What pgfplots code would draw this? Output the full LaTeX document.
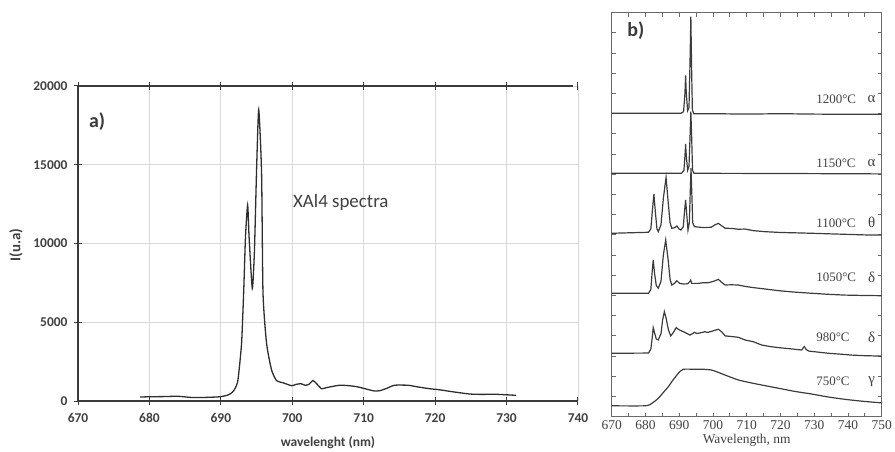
\documentclass[border=0pt]{standalone}
\usepackage{pgfplots}
\pgfplotsset{compat=1.18}
\usepackage{fontspec}
\setmainfont{Carlito}
\newfontfamily\serifb{Liberation Serif}
\definecolor{axdark}{HTML}{3A3A3A}
\definecolor{gridc}{HTML}{D9D9D9}
\definecolor{labc}{HTML}{404040}
\definecolor{curvec}{HTML}{2E2E2E}
\definecolor{bframe}{HTML}{6A6A6A}
\definecolor{btrace}{HTML}{3C3C3C}
\tikzset{btr/.style={btrace, line width=1.2bp, no marks}}

\begin{document}
\begin{tikzpicture}
\useasboundingbox (0,0) rectangle (895bp,452bp);

% panel a
\begin{axis}[
    at={(78bp,51bp)}, anchor=south west,
    scale only axis, width=500bp, height=315bp,
    xmin=670, xmax=740, ymin=0, ymax=20000,
    xtick={670,680,...,740}, ytick={0,5000,...,20000},
    scaled y ticks=false, clip=false,
    axis line style={draw=none},
    xtick pos=both, ytick pos=left, tick align=center,
    major tick length=8bp,
    tick style={axdark, line width=1bp},
    grid=major, grid style={gridc, line width=0.8bp},
    ticklabel style={font=\fontsize{13.5}{14}\selectfont\bfseries, text=labc},
    /pgf/number format/1000 sep={},
    /pgf/number format/assume math mode=true,
    xticklabel style={yshift=-5bp},
    yticklabel style={xshift=-3bp},
]
\draw[axdark, line width=1.3bp] (rel axis cs:0,1) -- (rel axis cs:0,0) -- (rel axis cs:1,0);
\draw[axdark, line width=1.3bp] (rel axis cs:0,1) -- (rel axis cs:0.99,1);
\addplot[curvec, line width=1.3bp, smooth, tension=0.35, no marks] coordinates {
(678.7,250)(680,270)(682,280)(684,300)(686,220)(688,230)(689.9,270)(691,380)
(691.6,550)(692,800)(692.4,1350)(692.9,3660)(693.2,7000)(693.45,10430)(693.75,12450)
(693.95,10430)(694.4,7150)(694.7,9500)(695.0,14667)(695.3,18500)(695.7,14500)
(695.9,6860)(696.4,3660)(697.1,1970)(697.8,1290)(698.7,1160)(699.9,970)
(700.5,1050)(701.2,1100)(701.8,1000)(702.3,1050)(702.9,1300)(703.4,1100)(704.1,780)
(704.8,850)(706.6,1000)(708,970)(709,910)(710,800)(711.5,635)(712.3,660)(713.2,800)
(714.3,1000)(716.2,1000)(717.5,900)(719.2,780)(720.5,720)(722.4,590)(724.8,445)
(726.5,420)(728.6,425)(731.3,360)};
\node[anchor=west, font=\fontsize{20}{22}\selectfont\bfseries, text=axdark] at (rel axis cs:0.015,0.886) {a)};
\node[font=\fontsize{19}{21}\selectfont, text=labc] at (axis cs:706.8,12630) {XAl4 spectra};
\node[rotate=90, font=\fontsize{15}{16}\selectfont\bfseries, text=labc] at (rel axis cs:-0.124,0.495) {I(u.a)};
\node[font=\fontsize{13.5}{14}\selectfont\bfseries, text=labc] at (rel axis cs:0.5,-0.133) {wavelenght (nm)};
\end{axis}

% panel b
\begin{axis}[
    at={(611.7bp,35.3bp)}, anchor=south west,
    scale only axis, width=270bp, height=404bp,
    xmin=670, xmax=750, ymin=0, ymax=20,
    xtick={670,680,...,750}, minor x tick num=1,
    ytick={1,2,...,19}, yticklabels={},
    tick align=inside, major tick length=4bp, minor tick length=4bp,
    axis line style={bframe, line width=1bp},
    tick style={bframe, line width=0.8bp},
    clip=false,
    xticklabel style={font=\serifb\fontsize{13.5}{14}\selectfont, text=labc},
    /pgf/number format/assume math mode=true,
]
% 1200 C
\addplot[btr] coordinates {
(670,15.02)(690.5,15.02)(691.3,15.1)(691.7,16.0)(691.9,16.9)(692.1,16.0)(692.5,15.15)
(692.9,15.3)(693.2,17.5)(693.45,19.8)(693.7,17.0)(693.9,15.2)(694.3,15.0)(700,15.0)
(710,14.98)(720,15.0)(730,14.98)(740,14.97)(750,14.97)};
% 1150 C
\addplot[btr] coordinates {
(670,12.05)(690.7,12.05)(691.4,12.2)(691.7,12.9)(691.9,13.5)(692.1,12.9)(692.5,12.2)
(692.9,12.4)(693.2,13.8)(693.45,15.1)(693.7,13.8)(693.95,12.2)(694.4,12.05)(720,12.04)(750,12.02)};
% 1100 C
\addplot[btr] coordinates {
(670,9.08)(680.9,9.13)(681.6,9.3)(682.1,10.3)(682.5,11.02)(682.9,10.2)(683.4,9.3)
(683.8,9.16)(684.6,9.5)(685.3,10.8)(686.1,11.85)(686.8,10.5)(687.3,9.6)(687.8,9.33)
(688.6,9.35)(689.3,9.44)(689.9,9.3)(690.5,9.24)(691.2,9.4)(691.6,10.2)(691.9,10.73)
(692.2,10.1)(692.6,9.24)(693.0,9.6)(693.25,11.0)(693.5,12.3)(693.75,11.0)(694.0,9.6)
(694.5,9.41)(696,9.38)(697.6,9.36)(699.5,9.38)(700.6,9.5)(701.6,9.57)(702.6,9.45)
(703.6,9.33)(705.5,9.32)(707.5,9.28)(709.5,9.29)(712,9.21)(715.4,9.16)(720,9.12)
(725,9.1)(729.3,9.08)(735,9.05)(739.1,9.03)(745,9.0)(750,8.99)};
% 1050 C
\addplot[btr] coordinates {
(670,6.11)(680.9,6.11)(681.6,6.3)(682,7.2)(682.3,7.76)(682.7,7.1)(683.2,6.5)(683.8,6.36)
(684.6,6.7)(685.3,8.0)(686,8.75)(686.7,7.8)(687.3,6.8)(687.8,6.52)(688.6,6.6)(689.3,6.73)
(690.1,6.6)(691.2,6.57)(692.5,6.58)(693.2,6.7)(693.4,6.76)(693.7,6.6)(695.7,6.6)(697,6.63)
(698.6,6.63)(700.5,6.72)(701.6,6.8)(702.6,6.65)(703.6,6.52)(705.5,6.53)(707.5,6.52)
(709.5,6.45)(712,6.39)(715,6.33)(719.4,6.24)(724,6.17)(729.3,6.11)(734,6.06)(739.1,6.02)
(745,6.0)(750,5.99)};
% 980 C
\addplot[btr] coordinates {
(670,3.14)(680.9,3.15)(681.6,3.35)(682,3.9)(682.3,4.41)(682.7,4.15)(683.2,3.85)(683.8,3.8)
(684.6,4.1)(685.1,4.8)(685.6,5.2)(686.1,4.9)(686.8,4.3)(687.5,4.0)(688.4,4.2)(689.1,4.41)
(690,4.3)(691.2,4.21)(692.3,4.12)(693.2,4.04)(694,4.12)(694.5,4.18)(695.2,4.12)(696.2,4.15)
(697,4.18)(697.6,4.21)(698.4,4.17)(699.5,4.22)(700.6,4.28)(701.6,4.33)(702.6,4.2)(703.6,4.0)
(705.5,3.97)(707.5,3.93)(709.5,3.8)(712,3.71)(714.4,3.55)(717,3.47)(719.4,3.42)(723,3.36)
(726.3,3.3)(726.8,3.43)(727.1,3.47)(727.5,3.35)(728.3,3.25)(731,3.2)(734.2,3.14)
(737.5,3.1)(741.1,3.05)(745,3.02)(750,3.0)};
% 750 C
\addplot[btr, smooth, tension=0.4] coordinates {
(670,0.54)(679.9,0.54)(681.9,0.66)(683.8,0.91)(685.3,1.2)(686.8,1.49)(688,1.78)
(689.3,2.06)(690.3,2.25)(691.2,2.35)(694.7,2.35)(697,2.35)(699.6,2.31)(701.5,2.2)
(703.6,2.06)(705.5,1.94)(707.5,1.82)(709.5,1.74)(712,1.65)(715,1.55)(719.4,1.41)
(724,1.26)(729.3,1.12)(734,0.98)(739.1,0.86)(744,0.77)(749.5,0.69)(750,0.68)};
\begin{scope}[every node/.style={anchor=west, font=\serifb\fontsize{13}{14}\selectfont, text=labc}]
\node at (axis cs:729.6,15.71) {1200°C};
\node at (axis cs:729.6,12.56) {1150°C};
\node at (axis cs:729.6,9.6) {1100°C};
\node at (axis cs:729.6,6.88) {1050°C};
\node at (axis cs:729.6,3.91) {980°C};
\node at (axis cs:729.6,1.73) {750°C};
\end{scope}
\begin{scope}[every node/.style={font=\serifb\fontsize{15}{16}\selectfont, text=labc}]
\node at (axis cs:747,15.71) {α};
\node at (axis cs:747,12.56) {α};
\node at (axis cs:747,9.6) {θ};
\node at (axis cs:747,6.88) {δ};
\node at (axis cs:747,3.91) {δ};
\node at (axis cs:747,1.73) {γ};
\end{scope}
\node[anchor=west, font=\fontsize{20}{22}\selectfont\bfseries, text=axdark] at (rel axis cs:0.045,0.955) {b)};
\node[font=\serifb\fontsize{13.5}{14}\selectfont, text=labc] at (rel axis cs:0.5,-0.059) {Wavelength, nm};
\end{axis}
\end{tikzpicture}
\end{document}
